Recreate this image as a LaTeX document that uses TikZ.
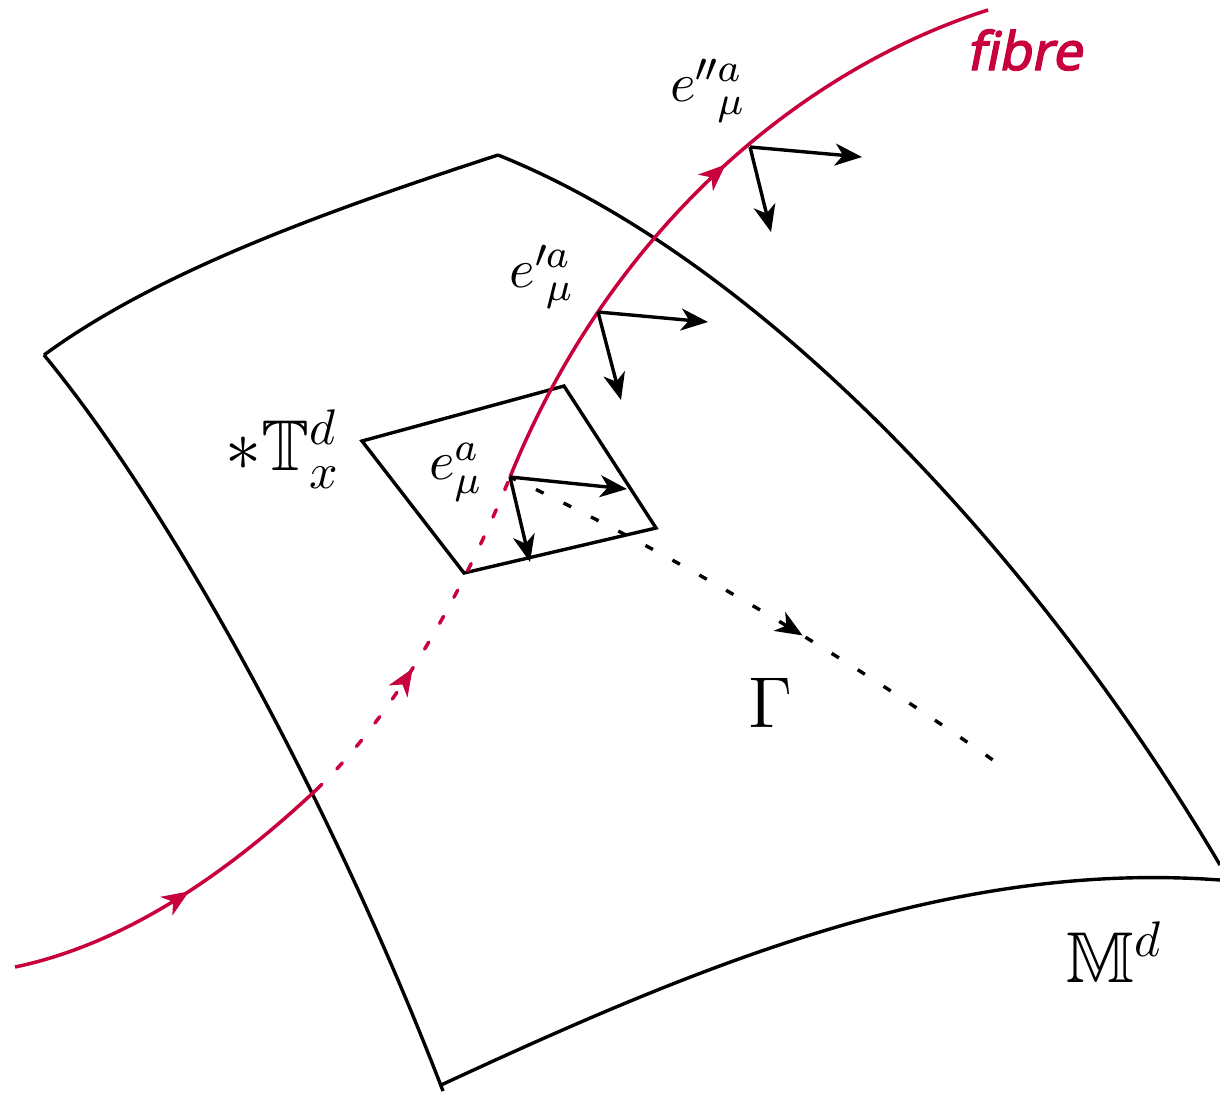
\documentclass[tikz,border=0pt]{standalone}
\usepackage{amsmath,amssymb,amsfonts}
\usepackage{fontspec}
\newfontfamily\fibrefont[FakeSlant=0.2, FakeBold=2.5]{Noto Sans}
\usepackage{xcolor}
\usepackage{tikz}
\usetikzlibrary{arrows.meta, positioning, calc, decorations.markings}
\definecolor{fibrered}{HTML}{C8003C}

\begin{document}
\begin{tikzpicture}[
    x=0.2pt, y=-0.2pt,
    >={Stealth[length=5.4pt, width=4.4pt, inset=1.6pt]},
    edge/.style={draw=black, line width=0.68pt},
    frame_arrow/.style={->, draw=black, line width=0.68pt},
    fibre_line/.style={draw=fibrered, line width=0.7pt},
    fibre_dash/.style={fibre_line, dash pattern=on 1.6pt off 4.35pt, line cap=round},
    gamma_dash/.style={draw=black, line width=0.68pt, dash pattern=on 1.7pt off 4.45pt, dash phase=0.4pt},
    mid_tip/.style={postaction={decorate}, decoration={markings, mark=at position #1 with {\arrow{>}}}},
    label_big/.style={font=\Large, inner sep=0pt},
    label_small/.style={font=\fontsize{11.3}{13}\selectfont, inner sep=0pt}
]
\useasboundingbox (0,0) rectangle (1220,1093);

% Sheet corners
\coordinate (sheet_a) at (44,355);
\coordinate (sheet_b) at (498,155);
\coordinate (sheet_c) at (1220,865);
\coordinate (sheet_d) at (441,1085);
\coordinate (sheet_e) at (1220,880);
\coordinate (sheet_f) at (443,1091);

% Tangent patch corners
\coordinate (patch_a) at (362,441);
\coordinate (patch_b) at (564,386);
\coordinate (patch_c) at (656,528);
\coordinate (patch_d) at (464,573);

% Fibre points
\coordinate (fibre_start) at (15,967);
\coordinate (fibre_in) at (316,790);
\coordinate (frame_one) at (510,477);
\coordinate (frame_two) at (598,312);
\coordinate (frame_three) at (750,147);
\coordinate (fibre_end) at (988,10);
\coordinate (gamma_end) at (1000,765);

% Frame tips
\coordinate (tip_one_r) at (627,489);
\coordinate (tip_one_d) at (530,562);
\coordinate (tip_two_r) at (708,322);
\coordinate (tip_two_d) at (621,400);
\coordinate (tip_three_r) at (862,157);
\coordinate (tip_three_d) at (771,232);

% Sheet
\draw [edge] (sheet_a) .. controls (160,270) and (330,210) .. (sheet_b);
\draw [edge] (sheet_b) .. controls (765,262) and (1040,560) .. (sheet_c);
\draw [edge] (sheet_a) .. controls (172,510) and (333,805) .. (sheet_f);
\draw [edge] (sheet_d) .. controls (700,965) and (950,860) .. (sheet_e);

% Patch
\draw [edge, line join=miter] (patch_a) -- (patch_b) -- (patch_c) -- (patch_d) -- cycle;

% Fibre
\draw [fibre_line, mid_tip=0.54] (fibre_start) .. controls (120,945) and (220,880) .. (fibre_in);
\draw [fibre_dash, mid_tip=0.42] (fibre_in) .. controls (390,720) and (460,600) .. (frame_one);
\draw [fibre_line, mid_tip=0.555] (frame_one) .. controls (610,230) and (800,70) .. (fibre_end);

% Path
\draw [gamma_dash, mid_tip=0.585] (frame_one) .. controls (660,548) and (830,645) .. (gamma_end);

% Frames
\draw [frame_arrow] (frame_one) -- (tip_one_r);
\draw [frame_arrow] (frame_one) -- (tip_one_d);
\draw [frame_arrow] (frame_two) -- (tip_two_r);
\draw [frame_arrow] (frame_two) -- (tip_two_d);
\draw [frame_arrow] (frame_three) -- (tip_three_r);
\draw [frame_arrow] (frame_three) -- (tip_three_d);

% Labels
\node (label_e) [label_small] at (456,472) {$e^a_\mu$};
\node (label_ep) [label_small] at (542,277) {$e'\mkern-1mu{}^a_{\mu}$};
\node (label_epp) [label_small] at (708,91) {$e^{\prime\mkern-1mu\prime}\mkern-0.5mu{}^a_{\mu}$};
\node (label_patch) [label_big] at (283,449) {$\ast\mathbb{T}^d_x$};
\node (label_gamma) [label_big] at (771,703) {$\Gamma$};
\node (label_sheet) [label_big] at (1115,952) {$\mathbb{M}^d$};
\node (label_fibre) [font=\fibrefont\fontsize{10.6}{13}\selectfont, text=fibrered, inner sep=0pt] at (1024,50) {f{}ibre};

\end{tikzpicture}
\end{document}
